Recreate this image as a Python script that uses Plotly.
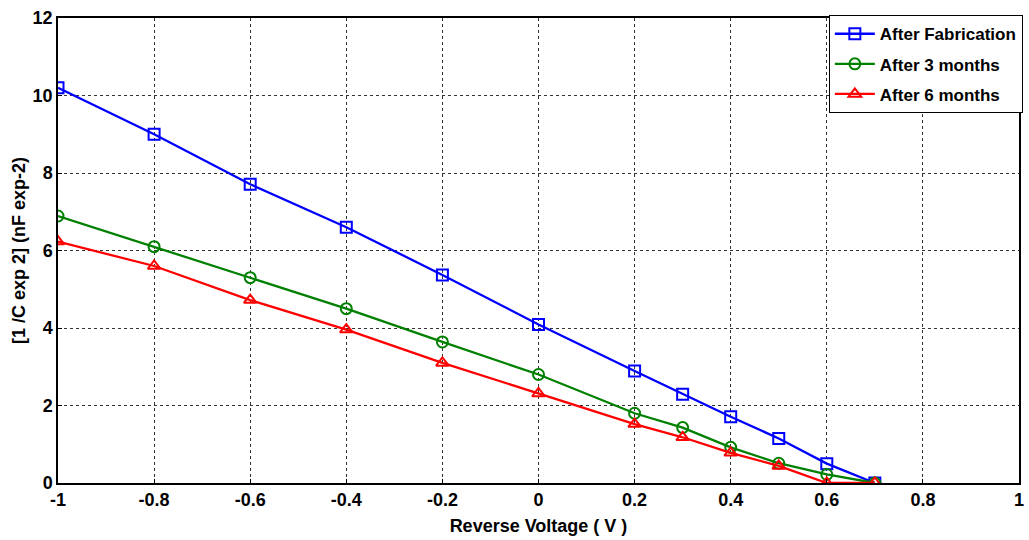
import plotly.graph_objects as go

# Reverse bias sweep (V)
voltage_fab = [-1, -0.8, -0.6, -0.4, -0.2, 0, 0.2, 0.3, 0.4, 0.5, 0.6, 0.7]
voltage_3m = [-1, -0.8, -0.6, -0.4, -0.2, 0, 0.2, 0.3, 0.4, 0.5, 0.6, 0.7]
voltage_6m = [-1, -0.8, -0.6, -0.4, -0.2, 0, 0.2, 0.3, 0.4, 0.5, 0.6, 0.7]

# 1/C^2 values (nF^-2)
inv_c2_fab = [10.20, 9.00, 7.71, 6.60, 5.37, 4.09, 2.89, 2.29, 1.71, 1.15, 0.50, 0.0]
inv_c2_3m = [6.89, 6.10, 5.30, 4.50, 3.64, 2.80, 1.80, 1.43, 0.92, 0.51, 0.22, 0.0]
inv_c2_6m = [6.23, 5.60, 4.72, 3.96, 3.10, 2.31, 1.52, 1.18, 0.78, 0.44, 0.0, 0.0]

x_ticks = [-1, -0.8, -0.6, -0.4, -0.2, 0, 0.2, 0.4, 0.6, 0.8, 1]
x_tick_text = ["-1", "-0.8", "-0.6", "-0.4", "-0.2", "0", "0.2", "0.4", "0.6", "0.8", "1"]
y_ticks = [0, 2, 4, 6, 8, 10, 12]

FONT = "Liberation Sans, Arial, sans-serif"

series = [
    ("After Fabrication", voltage_fab, inv_c2_fab, "#0000ff", "square-open"),
    ("After 3 months", voltage_3m, inv_c2_3m, "#008000", "circle-open"),
    ("After 6 months", voltage_6m, inv_c2_6m, "#ff0000", "triangle-up-open"),
]

fig = go.Figure()
for i, (name, xs, ys, color, sym) in enumerate(series):
    fig.add_trace(go.Scatter(
        x=xs, y=ys, name=name, mode="lines+markers", legendgroup=f"g{i}",
        line=dict(color=color, width=2.3),
        marker=dict(symbol=sym, size=11, color=color, line=dict(color=color, width=2)),
    ))

axis_common = dict(
    showline=True, linecolor="black", linewidth=1.5, mirror=True,
    showgrid=True, gridcolor="#333333", griddash="dot", gridwidth=1,
    ticks="inside", ticklen=4, tickcolor="black",
    zeroline=False,
    tickfont=dict(family=FONT, size=18, color="black", weight="bold"),
)

fig.update_xaxes(
    range=[-1, 1], tickvals=x_ticks, ticktext=x_tick_text,
    title=dict(text="Reverse Voltage ( V )", standoff=10,
               font=dict(family=FONT, size=18, color="black", weight="bold")),
    **axis_common,
)
fig.update_yaxes(
    range=[0, 12], tickvals=y_ticks,
    title=dict(text="[1 /C exp 2] (nF exp-2)", standoff=2,
               font=dict(family=FONT, size=18, color="black", weight="bold")),
    **axis_common,
)

fig.update_layout(
    width=1029, height=540,
    margin=dict(l=58, r=6, t=18, b=57),
    plot_bgcolor="white", paper_bgcolor="white",
    legend=dict(
        x=1.004, y=1.006, xanchor="right", yanchor="top",
        bgcolor="white", bordercolor="black", borderwidth=1,
        font=dict(family=FONT, size=17, color="black", weight="bold"),
        itemwidth=40, tracegroupgap=5,
    ),
)

fig.write_html("out.html")
